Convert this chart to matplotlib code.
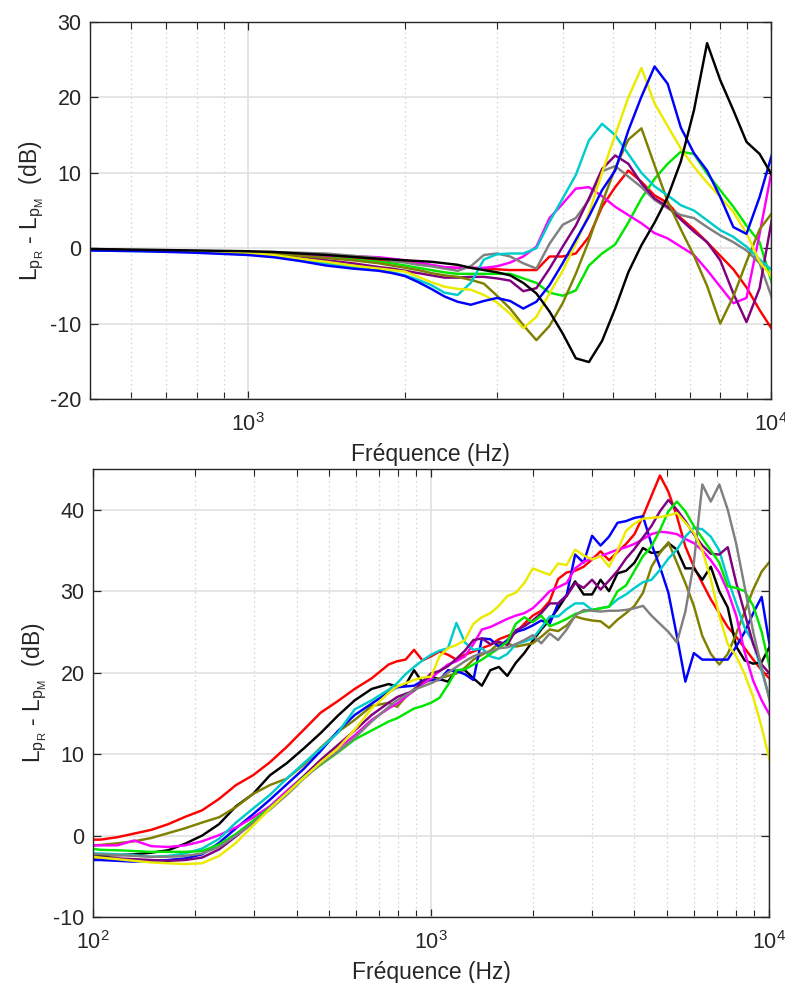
import matplotlib
matplotlib.use("Agg")
import matplotlib.pyplot as plt
from matplotlib.ticker import LogLocator, NullFormatter

plt.rcParams['font.family'] = ['Liberation Sans', 'DejaVu Sans']
plt.rcParams['mathtext.fontset'] = 'custom'
plt.rcParams['mathtext.rm'] = 'Liberation Sans'
plt.rcParams['mathtext.it'] = 'Liberation Sans:italic'
plt.rcParams['axes.unicode_minus'] = False

# 1/12-octave band indices (f = 1000 * 2**(k/12))
K_TOP = [-12, -8, -4, 0, 2, 4, 6, 8, 10] + list(range(11, 41))
K_BOT = [-40, -39, -37, -35, -33, -31, -29, -27, -25, -23, -21, -19, -17, -15, -13, -11, -9, -7, -5] + list(range(-4, 41))

COLORS = {
    'red': (1.0, 0.0, 0.0), 'black': (0.0, 0.0, 0.0), 'olive': (0.5, 0.5, 0.0),
    'blue': (0.0, 0.0, 1.0), 'magenta': (1.0, 0.0, 1.0), 'cyan': (0.0, 0.8, 0.8),
    'purple': (0.5, 0.0, 0.5), 'green': (0.0, 0.9, 0.0), 'gray': (0.5, 0.5, 0.5),
    'yellow': (0.92, 0.92, 0.0),
}

# ---- top panel values (dB) ----
top_red = [-0.2, -0.3, -0.4, -0.6, -0.7, -0.9, -1.1, -1.3, -1.6,
           -1.7, -1.8, -2.0, -2.3, -2.6, -2.6, -2.6, -2.7, -2.8, -2.9, -2.9, -2.9, -1.1, -1.1, -0.7,
           1.5, 5.5, 8.1, 10.3, 8.8, 7.0, 6.0, 4.0, 2.5, 0.8, -1.0, -2.8, -5.2, -8.2, -10.9]
top_green = [-0.2, -0.3, -0.4, -0.6, -0.7, -0.9, -1.2, -1.5, -1.8,
             -2.0, -2.3, -2.6, -2.9, -3.2, -3.4, -3.4, -3.4, -3.4, -3.4, -4.0, -4.6, -5.9, -6.3, -5.6,
             -2.3, -0.7, 0.5, 3.4, 6.6, 9.2, 11.2, 12.8, 12.5, 9.9, 7.7, 5.5, 3.0, 0.8, -5.0]
top_magenta = [-0.2, -0.3, -0.4, -0.5, -0.6, -0.8, -1.0, -1.05, -1.2,
               -1.4, -1.6, -1.9, -2.2, -2.5, -2.6, -2.6, -2.6, -2.4, -1.9, -1.1, 0.2, 4.0, 5.9, 7.9,
               8.1, 6.9, 5.5, 4.4, 3.3, 2.0, 1.3, 0.2, -0.9, -2.9, -5.1, -7.3, -6.6, 1.9, 11.0]
top_gray = [-0.2, -0.3, -0.4, -0.5, -0.5, -0.6, -0.7, -1.0, -1.3,
            -1.7, -1.9, -2.2, -2.4, -2.7, -3.0, -2.4, -0.9, -0.7, -1.1, -2.0, -2.7, 0.6, 3.1, 4.0,
            6.4, 10.2, 10.9, 9.5, 8.1, 6.4, 5.3, 4.4, 4.0, 2.8, 1.7, 0.8, -0.3, -2.0, -6.9]
top_purple = [-0.2, -0.3, -0.4, -0.6, -0.8, -1.1, -1.6, -2.0, -2.5,
              -2.7, -3.0, -3.3, -3.6, -3.9, -3.9, -3.8, -3.8, -4.0, -4.3, -5.7, -5.3, -2.7, 0.2, 3.0,
              6.6, 10.5, 12.3, 11.2, 8.6, 6.6, 5.5, 3.8, 2.2, 0.8, -1.6, -6.0, -9.8, -5.3, 4.5]
top_olive = [-0.2, -0.3, -0.4, -0.6, -0.8, -1.0, -1.3, -1.6, -2.0,
             -2.3, -2.6, -2.9, -3.3, -3.6, -3.8, -4.2, -4.7, -6.3, -8.0, -10.2, -12.2, -10.3, -7.3, -3.4,
             1.0, 6.0, 10.6, 14.4, 15.9, 11.0, 6.2, 2.5, -1.0, -5.0, -10.0, -6.4, -1.8, 2.5, 4.8]
top_cyan = [-0.3, -0.4, -0.5, -0.8, -1.0, -1.5, -2.0, -2.5, -2.9,
            -3.2, -3.6, -4.2, -4.9, -5.9, -6.2, -4.6, -1.5, -0.8, -0.7, -0.7, 0.0, 3.5, 6.6, 9.7,
            14.3, 16.5, 15.0, 12.5, 10.0, 8.2, 7.0, 5.7, 5.0, 3.7, 2.4, 1.5, 0.2, -1.5, -3.0]
top_yellow = [-0.2, -0.3, -0.5, -0.7, -0.9, -1.4, -1.8, -2.3, -2.7,
              -2.9, -3.1, -3.8, -4.5, -5.1, -5.4, -5.5, -6.2, -7.2, -8.7, -10.6, -9.1, -6.0, -3.0, 0.6,
              4.6, 10.0, 15.0, 20.0, 23.9, 19.2, 16.2, 13.2, 10.8, 8.7, 6.8, 4.8, 2.0, -1.8, -4.0]
top_blue = [-0.3, -0.4, -0.6, -0.9, -1.2, -1.7, -2.3, -2.7, -3.0,
            -3.3, -3.7, -4.5, -5.4, -6.4, -7.1, -7.5, -7.0, -6.6, -7.0, -8.0, -7.1, -4.9, -2.0, 1.1,
            4.2, 7.7, 10.3, 15.6, 20.1, 24.1, 21.8, 16.0, 12.6, 10.3, 6.8, 2.8, 1.9, 6.8, 12.8]
top_black = [-0.1, -0.2, -0.3, -0.4, -0.5, -0.7, -0.9, -1.15, -1.4,
             -1.5, -1.6, -1.7, -1.8, -2.0, -2.2, -2.6, -2.9, -3.2, -3.6, -4.6, -6.0, -8.4, -11.3, -14.6,
             -15.1, -12.3, -8.0, -3.2, 0.4, 3.4, 6.8, 11.5, 18.3, 27.2, 22.3, 18.3, 14.1, 12.5, 9.5]

# ---- bottom panel values (dB) ----
bot_red = [-0.5, -0.5, -0.2, 0.25, 0.7, 1.4, 2.3, 3.1, 4.5, 6.2, 7.4, 9.0, 10.9, 13.0, 15.1, 16.5, 18.0, 19.3, 21.0,
           21.4, 21.6, 22.8, 21.5, 22.0, 22.6, 22.2, 21.6, 22.2, 22.6, 23.0, 23.4, 24.1, 24.5, 24.9,
           26.0, 27.0, 27.6, 28.8, 31.5, 32.3, 32.5, 33.0, 33.9, 34.9, 33.8, 34.8, 35.8, 37.0, 39.2,
           41.7, 44.2, 42.2, 39.2, 35.5, 33.0, 31.0, 29.0, 27.3, 25.6, 24.4, 23.0, 21.6, 20.3, 19.2]
bot_black = [-2.4, -2.5, -2.4, -2.3, -2.1, -1.8, -1.0, 0.0, 1.4, 3.6, 5.1, 7.4, 8.9, 10.7, 12.6, 14.7, 16.6, 18.0, 18.6,
             18.3, 18.5, 20.3, 18.8, 19.5, 19.2, 18.9, 20.3, 20.3, 19.3, 18.4, 20.3, 20.7, 19.6, 21.2,
             22.4, 23.9, 25.3, 26.5, 27.9, 29.5, 31.2, 29.6, 29.6, 31.4, 30.0, 32.2, 32.5, 33.5, 35.3,
             34.7, 34.8, 35.9, 35.1, 32.8, 32.8, 31.4, 33.0, 30.0, 28.0, 23.2, 21.5, 21.1, 21.3, 23.3]
bot_olive = [-1.2, -1.15, -0.95, -0.7, -0.3, 0.3, 0.9, 1.6, 2.25, 3.5, 5.1, 6.2, 7.0, 8.7, 10.8, 12.7, 14.2, 15.9, 16.3,
             15.8, 17.0, 18.0, 18.7, 19.1, 19.3, 19.6, 19.9, 20.6, 21.6, 22.2, 22.7, 23.6, 23.6, 23.2,
             23.4, 23.6, 24.4, 25.3, 25.1, 25.8, 26.9, 26.6, 26.4, 26.3, 25.5, 26.5, 27.3, 28.2, 29.8,
             33.0, 34.7, 36.0, 33.5, 31.0, 28.2, 24.5, 22.3, 21.0, 22.3, 24.8, 27.5, 30.2, 32.4, 33.7]
bot_blue = [-3.0, -3.0, -3.1, -3.2, -3.1, -3.0, -2.8, -2.3, -0.9, 0.9, 2.6, 4.4, 6.3, 8.2, 10.4, 12.8, 14.8, 16.2, 17.6,
            18.2, 18.3, 18.4, 19.0, 19.1, 19.1, 20.3, 20.2, 19.8, 19.1, 24.2, 24.1, 23.2, 24.0, 25.0,
            25.3, 25.8, 26.4, 26.0, 28.5, 29.5, 34.5, 33.5, 36.8, 35.6, 36.7, 38.4, 38.6, 39.0, 39.2,
            35.8, 33.0, 29.8, 24.5, 18.9, 22.4, 21.6, 21.6, 21.6, 21.6, 23.2, 25.0, 27.3, 29.3, 23.0]
bot_magenta = [-1.2, -1.2, -1.2, -0.6, -1.3, -1.4, -1.2, -0.7, 0.05, 1.0, 2.2, 3.6, 5.5, 7.3, 9.2, 10.7, 12.3, 14.2, 15.6,
               16.2, 17.0, 17.8, 18.6, 19.3, 20.2, 21.0, 21.4, 22.0, 23.5, 25.3, 25.6, 26.1, 26.6, 27.0,
               27.3, 27.9, 28.9, 30.0, 30.5, 31.0, 32.8, 33.6, 34.0, 34.3, 34.7, 35.1, 35.4, 35.8, 36.4,
               37.0, 37.3, 37.2, 37.0, 36.4, 35.9, 35.0, 33.8, 32.3, 30.0, 27.0, 22.5, 19.0, 16.6, 14.7]
bot_cyan = [-2.2, -2.2, -2.3, -2.4, -2.6, -2.5, -2.2, -1.6, -0.4, 1.6, 3.3, 5.0, 7.0, 8.9, 10.7, 12.6, 15.5, 16.6, 17.9,
            18.7, 19.8, 20.7, 21.5, 22.2, 22.7, 23.0, 26.1, 23.7, 22.8, 23.0, 22.0, 21.7, 22.3, 23.5,
            23.8, 24.2, 25.5, 26.9, 26.9, 27.8, 28.5, 28.5, 27.7, 27.9, 28.1, 29.0, 29.6, 30.4, 31.1,
            31.4, 32.6, 34.0, 35.1, 36.7, 37.8, 37.6, 36.7, 35.0, 31.5, 28.5, 25.5, 23.7, 20.2, 16.7]
bot_purple = [-2.7, -2.7, -2.8, -2.9, -3.0, -3.1, -3.0, -2.7, -1.7, -0.1, 1.6, 3.3, 5.2, 7.3, 9.3, 11.1, 12.9, 14.8, 16.3,
              17.0, 17.4, 17.8, 18.9, 19.9, 20.2, 20.8, 21.7, 22.7, 24.0, 24.2, 23.5, 23.8, 23.4, 25.2,
              25.7, 26.4, 27.3, 28.5, 28.5, 29.4, 31.0, 30.4, 31.4, 30.2, 31.3, 32.5, 34.0, 35.2, 36.6,
              38.0, 39.8, 41.2, 40.0, 38.6, 37.0, 35.6, 34.6, 34.5, 35.4, 31.0, 27.3, 23.5, 21.0, 19.8]
bot_green = [-1.6, -1.75, -1.8, -1.9, -2.0, -2.0, -2.0, -1.9, -1.1, 0.2, 1.8, 3.4, 5.2, 7.2, 8.7, 10.2, 11.8, 12.9, 14.0,
             14.4, 15.0, 15.6, 15.9, 16.3, 16.9, 18.5, 20.3, 20.4, 21.0, 21.6, 22.3, 23.0, 23.8, 26.0,
             26.8, 26.2, 27.0, 25.7, 26.1, 26.6, 27.2, 27.5, 27.7, 27.9, 28.1, 30.0, 30.7, 32.5, 34.3,
             35.5, 37.5, 39.8, 41.0, 39.8, 38.0, 36.5, 35.0, 33.5, 30.6, 30.4, 30.0, 28.2, 25.0, 20.4]
bot_gray = [-2.3, -2.3, -2.4, -2.5, -2.6, -2.6, -2.5, -2.2, -1.4, 0.0, 1.5, 3.2, 5.0, 7.0, 8.8, 10.3, 12.0, 14.0, 15.8,
            16.6, 17.2, 17.9, 18.3, 18.7, 19.2, 20.0, 20.7, 21.4, 22.0, 22.4, 22.6, 23.0, 23.1, 23.5,
            24.0, 24.6, 23.6, 24.8, 24.0, 25.3, 27.0, 27.7, 27.6, 27.5, 27.6, 27.6, 27.7, 27.9, 28.2,
            27.0, 26.0, 25.0, 23.7, 27.5, 33.5, 43.1, 41.0, 43.1, 40.0, 35.8, 30.5, 25.0, 20.6, 16.3]
bot_yellow = [-2.6, -2.7, -2.9, -3.1, -3.3, -3.4, -3.5, -3.4, -2.5, -0.9, 1.2, 3.3, 5.2, 7.1, 9.0, 10.7, 13.0, 15.6, 17.5,
              18.3, 18.7, 19.1, 19.4, 19.5, 22.0, 23.0, 23.4, 24.0, 26.0, 26.8, 27.3, 28.2, 29.4, 29.8,
              31.0, 32.8, 32.4, 32.0, 33.4, 33.2, 35.1, 34.4, 33.9, 34.3, 33.0, 35.0, 37.4, 38.3, 38.9,
              39.0, 39.1, 39.3, 39.6, 38.4, 37.2, 35.0, 31.5, 27.0, 23.5, 22.0, 19.8, 17.0, 13.3, 9.0]

TOP_SERIES = [('red', top_red), ('green', top_green), ('magenta', top_magenta), ('gray', top_gray),
              ('purple', top_purple), ('olive', top_olive), ('cyan', top_cyan), ('yellow', top_yellow),
              ('blue', top_blue), ('black', top_black)]
BOT_SERIES = [('red', bot_red), ('black', bot_black), ('olive', bot_olive), ('blue', bot_blue),
              ('magenta', bot_magenta), ('cyan', bot_cyan), ('purple', bot_purple), ('green', bot_green),
              ('gray', bot_gray), ('yellow', bot_yellow)]

YLABEL = r'$\mathregular{L_{p_R}}$ - $\mathregular{L_{p_M}}$  (dB)'
XLABEL = 'Fréquence (Hz)'

freq_top = [1000.0 * 2 ** (k / 12.0) for k in K_TOP]
freq_bot = [1000.0 * 2 ** (k / 12.0) for k in K_BOT]

fig = plt.figure(figsize=(7.85, 9.83), dpi=100)
ax1 = fig.add_axes([0.1146, 0.5941, 0.8675, 0.3835])
ax2 = fig.add_axes([0.1185, 0.0671, 0.8611, 0.4558])

AXC = (0.15, 0.15, 0.15)


def style(ax, xlim, ylim, yticks):
    ax.set_xscale('log')
    ax.set_xlim(*xlim)
    ax.set_ylim(*ylim)
    ax.set_yticks(yticks)
    ax.xaxis.set_major_locator(LogLocator(base=10))
    ax.xaxis.set_minor_locator(LogLocator(base=10, subs=range(2, 10)))
    ax.xaxis.set_minor_formatter(NullFormatter())
    ax.grid(True, which='major', color='#dedede', linewidth=1.1, linestyle='-')
    ax.grid(True, which='minor', axis='x', color='#d2d2d2', linewidth=0.9, linestyle=(0, (1.2, 2.5)))
    ax.set_axisbelow(True)
    for s in ax.spines.values():
        s.set_color(AXC)
        s.set_linewidth(1.0)
    ax.tick_params(which='both', direction='in', top=True, right=True, colors=AXC,
                   labelcolor=(0.15, 0.15, 0.15), labelsize=15.5)
    ax.tick_params(axis='x', which='both', pad=10)
    ax.tick_params(axis='y', which='both', pad=6)
    ax.tick_params(which='major', length=6, width=0.9)
    ax.tick_params(which='minor', length=5, width=0.8)
    ax.set_xlabel(XLABEL, fontsize=16.5, color=(0.15, 0.15, 0.15), labelpad=5)
    ax.set_ylabel(YLABEL, fontsize=16.5, color=(0.15, 0.15, 0.15), labelpad=3)


for name, vals in TOP_SERIES:
    ax1.plot(freq_top, vals, color=COLORS[name], linewidth=1.75)
for name, vals in BOT_SERIES:
    ax2.plot(freq_bot, vals, color=COLORS[name], linewidth=1.75)

style(ax1, (500, 10000), (-20, 30), [-20, -10, 0, 10, 20, 30])
style(ax2, (100, 10000), (-10, 45), [-10, 0, 10, 20, 30, 40])

fig.savefig('out.png', dpi=100)
